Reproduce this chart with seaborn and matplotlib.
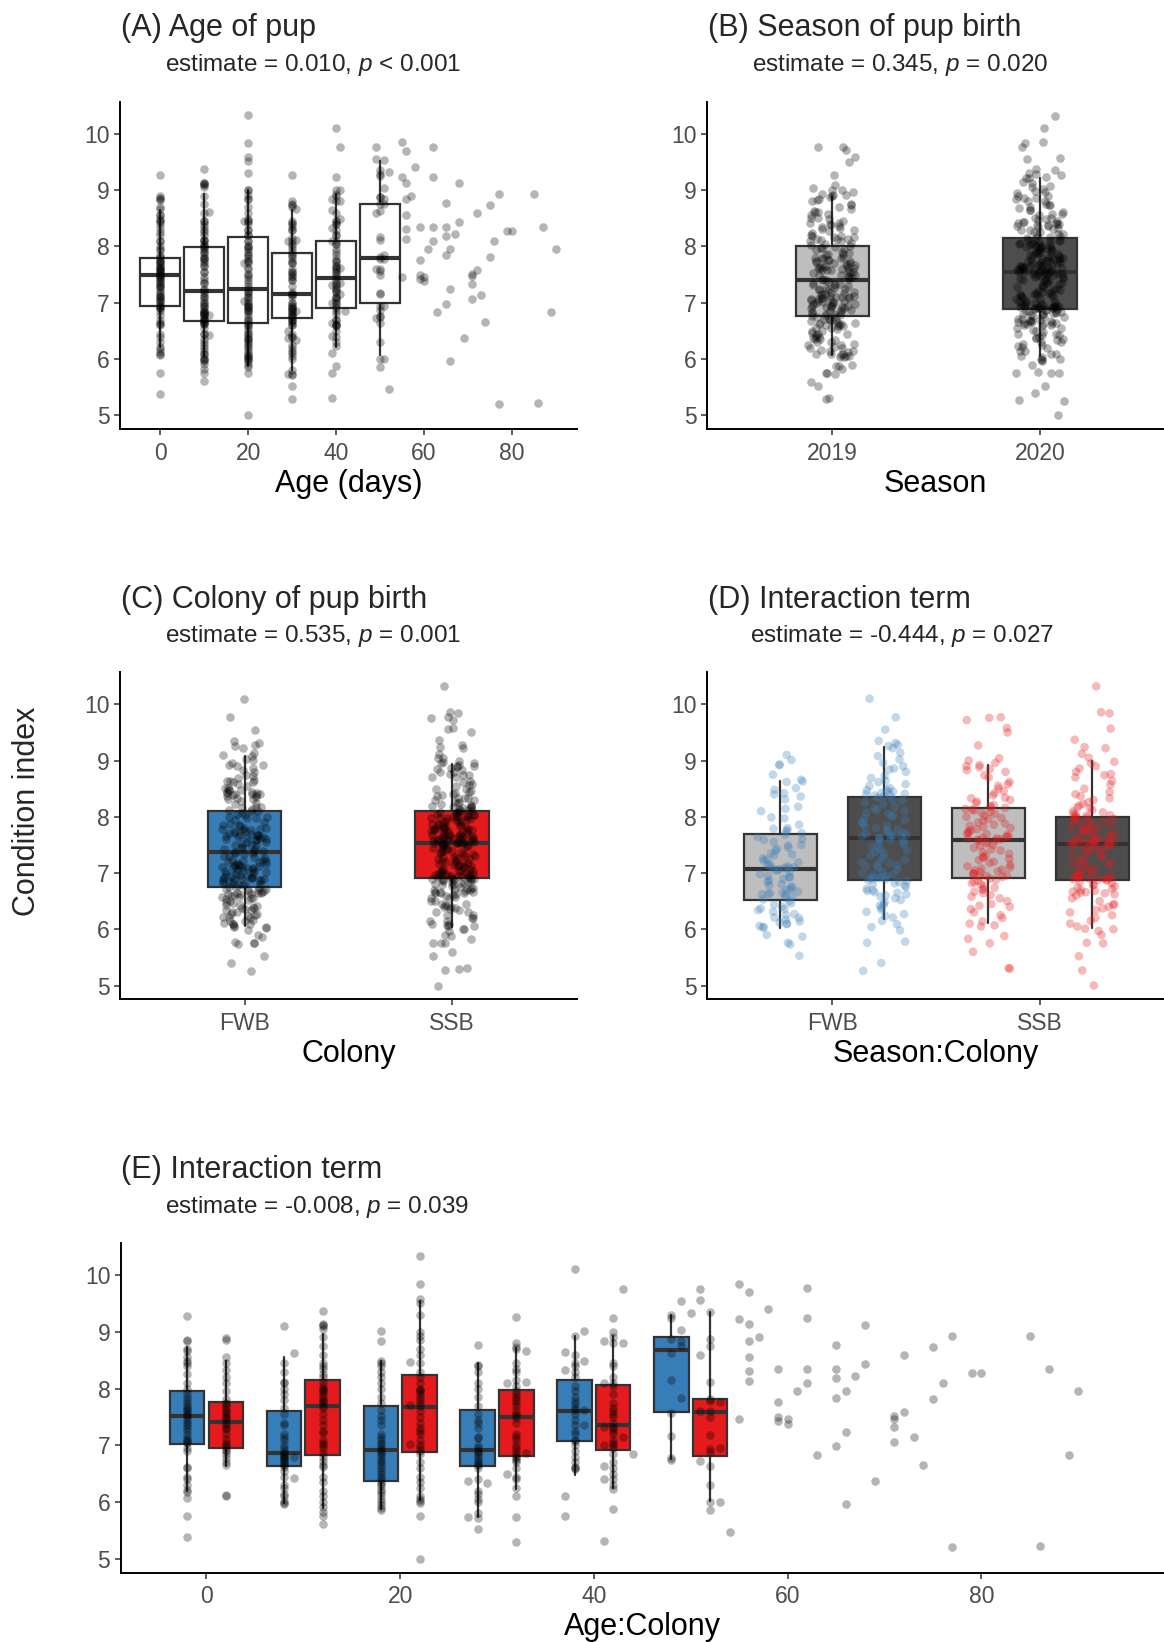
import numpy as np
import pandas as pd
import matplotlib
matplotlib.use("Agg")
import matplotlib.pyplot as plt
import seaborn as sns

# ---------------- DATA ----------------
# Season x Colony groups (condition index values)
fwb_2019 = [9.10, 9.01, 8.93, 8.92, 8.75, 8.66,
            8.63, 8.62, 8.51, 8.48, 8.42, 8.40, 8.36, 8.31, 8.18, 8.14, 8.10, 7.99, 7.97, 7.86, 7.80, 7.79, 7.76, 7.74, 7.71,
            7.68, 7.64, 7.60, 7.59, 7.55, 7.50, 7.49, 7.45, 7.43, 7.40, 7.35, 7.33, 7.31, 7.26, 7.24, 7.22, 7.19, 7.16, 7.14, 7.12, 7.11, 7.10, 7.09, 7.09, 7.07,
            7.06, 7.04, 7.01, 6.98, 6.95, 6.93, 6.92, 6.90, 6.87, 6.84, 6.80, 6.78, 6.76, 6.74, 6.71, 6.69, 6.67, 6.65, 6.64, 6.63, 6.62, 6.61, 6.58, 6.56, 6.53,
            6.50, 6.46, 6.44, 6.40, 6.37, 6.36, 6.34, 6.31, 6.27, 6.25, 6.21, 6.20, 6.17, 6.14, 6.12, 6.10, 6.09, 6.06, 6.04, 6.03,
            5.90, 5.87, 5.76, 5.73, 5.53]
fwb_2020 = [10.10, 9.77, 9.55, 9.35, 9.31, 9.28, 9.26,
            9.22, 9.14, 9.08, 9.02, 8.96, 8.90, 8.86, 8.84, 8.80, 8.73, 8.69, 8.64, 8.62, 8.58, 8.55, 8.51, 8.48, 8.47, 8.45, 8.44, 8.42, 8.41, 8.40, 8.39, 8.38, 8.37,
            8.34, 8.31, 8.29, 8.25, 8.22, 8.18, 8.15, 8.12, 8.10, 8.07, 8.05, 8.03, 8.00, 7.97, 7.94, 7.90, 7.88, 7.85, 7.83, 7.80, 7.78, 7.76, 7.74, 7.72, 7.70, 7.68, 7.67, 7.66, 7.65, 7.64, 7.63, 7.62,
            7.60, 7.58, 7.55, 7.52, 7.49, 7.46, 7.43, 7.40, 7.38, 7.35, 7.31, 7.28, 7.24, 7.21, 7.19, 7.17, 7.15, 7.14, 7.12, 7.09, 7.06, 7.03, 7.00, 6.98, 6.96, 6.94, 6.93, 6.92, 6.91, 6.90, 6.89, 6.88,
            6.86, 6.84, 6.82, 6.80, 6.78, 6.75, 6.72, 6.69, 6.68, 6.66, 6.65, 6.62, 6.60, 6.58, 6.55, 6.52, 6.48, 6.44, 6.42, 6.38, 6.35, 6.31, 6.27, 6.24, 6.21,
            6.15, 6.09, 6.04, 5.98, 5.78, 5.76, 5.40, 5.26]
ssb_2019 = [9.77, 9.76, 9.72, 9.58, 9.50, 9.27, 9.04, 9.00, 8.96,
            8.92, 8.90, 8.88, 8.85, 8.83, 8.80, 8.74, 8.70, 8.62, 8.58, 8.55, 8.50, 8.46, 8.42, 8.38, 8.34, 8.33, 8.30, 8.27, 8.24, 8.21, 8.19, 8.17, 8.16,
            8.14, 8.13, 8.11, 8.09, 8.07, 8.05, 8.02, 8.00, 7.98, 7.96, 7.93, 7.90, 7.88, 7.86, 7.84, 7.82, 7.80, 7.78, 7.76, 7.74, 7.72, 7.70, 7.69, 7.67, 7.66, 7.64, 7.63, 7.62, 7.61, 7.60, 7.59, 7.58,
            7.57, 7.55, 7.53, 7.50, 7.48, 7.45, 7.42, 7.40, 7.37, 7.34, 7.31, 7.29, 7.27, 7.25, 7.23, 7.20, 7.18, 7.15, 7.12, 7.10, 7.08, 7.06, 7.05, 7.03, 7.02, 7.00, 6.99, 6.98, 6.96, 6.95, 6.94, 6.93,
            6.90, 6.88, 6.86, 6.84, 6.82, 6.80, 6.77, 6.74, 6.72, 6.70, 6.67, 6.64, 6.61, 6.58, 6.55, 6.50, 6.45, 6.42, 6.40, 6.36, 6.30, 6.25, 6.20, 6.14,
            6.10, 6.07, 6.05, 5.88, 5.83, 5.75, 5.60, 5.31, 5.30]
ssb_2020 = [10.32, 9.86, 9.84, 9.57, 9.37, 9.24, 9.22, 9.12, 9.05,
            8.98, 8.95, 8.90, 8.86, 8.80, 8.76, 8.74, 8.70, 8.64, 8.57, 8.50, 8.44, 8.40, 8.37, 8.33, 8.30, 8.26, 8.23, 8.20, 8.17, 8.15, 8.12, 8.10, 8.08, 8.06, 8.04, 8.03, 8.02, 8.01,
            7.99, 7.98, 7.97, 7.96, 7.94, 7.92, 7.90, 7.88, 7.86, 7.84, 7.82, 7.80, 7.79, 7.78, 7.77, 7.75, 7.74, 7.72, 7.70, 7.68, 7.66, 7.65, 7.64, 7.62, 7.61, 7.60, 7.59, 7.58, 7.57, 7.56, 7.55, 7.54, 7.54, 7.53, 7.53, 7.52, 7.52,
            7.51, 7.50, 7.48, 7.46, 7.44, 7.42, 7.40, 7.38, 7.35, 7.33, 7.30, 7.28, 7.25, 7.22, 7.20, 7.18, 7.16, 7.14, 7.12, 7.10, 7.07, 7.04, 7.02, 7.00, 6.98, 6.97, 6.96, 6.95, 6.94, 6.93, 6.92, 6.91, 6.90, 6.90, 6.89, 6.89, 6.88,
            6.86, 6.84, 6.82, 6.80, 6.78, 6.76, 6.74, 6.72, 6.70, 6.68, 6.67, 6.66, 6.65, 6.64, 6.62, 6.60, 6.55, 6.50, 6.45, 6.43, 6.40, 6.37, 6.34, 6.30, 6.25, 6.20, 6.15, 6.10, 6.05,
            6.01, 6.00, 5.97, 5.90, 5.76, 5.75, 5.52, 5.27, 5.00]

# Age-group pups (age exactly at the group age), per colony
age_groups = [0, 10, 20, 30, 40, 50]
fwb_age0 = [9.27, 8.86, 8.83, 8.70, 8.66, 8.55, 8.48, 8.45, 8.40, 8.25, 8.10, 8.00, 7.93, 7.85, 7.80, 7.75, 7.70, 7.65, 7.62, 7.60, 7.56, 7.53, 7.50, 7.45, 7.40, 7.35, 7.30, 7.25, 7.18, 7.12, 7.10, 7.06, 7.04, 6.95, 6.90, 6.62, 6.60, 6.45, 6.40, 6.30, 6.22, 6.18, 6.08, 5.76, 5.39]
ssb_age0 = [8.89, 8.85, 8.55, 8.45, 8.32, 8.20, 8.10, 7.95, 7.82, 7.75, 7.72, 7.68, 7.62, 7.58, 7.55, 7.50, 7.48, 7.44, 7.40, 7.35, 7.30, 7.28, 7.20, 7.12, 7.05, 7.00, 6.97, 6.92, 6.90, 6.85, 6.78, 6.70, 6.65, 6.12, 6.10]
fwb_age10 = [9.11, 8.45, 8.30, 8.12, 8.10, 8.00, 7.90, 7.80, 7.65, 7.55, 7.40, 7.35, 7.20, 7.15, 7.10, 7.00, 6.95, 6.90, 6.86, 6.84, 6.82, 6.80, 6.78, 6.76, 6.72, 6.70, 6.68, 6.66, 6.62, 6.55, 6.45, 6.30, 6.25, 6.15, 6.10, 6.02, 5.98, 5.97]
ssb_age10 = [9.37, 9.13, 9.12, 9.10, 9.05, 8.90, 8.75, 8.60, 8.45, 8.40, 8.35, 8.25, 8.20, 8.12, 8.05, 8.00, 7.98, 7.95, 7.90, 7.85, 7.80, 7.78, 7.75, 7.70, 7.65, 7.55, 7.45, 7.35, 7.25, 7.22, 7.10, 7.05, 7.00, 6.95, 6.86, 6.80, 6.72, 6.65, 6.62, 6.45, 6.35, 6.20, 6.10, 6.00, 5.92, 5.82, 5.76, 5.61]
fwb_age20 = [9.01, 8.84, 8.48, 8.45, 8.40, 8.30, 8.20, 8.10, 8.00, 7.85, 7.75, 7.62, 7.52, 7.45, 7.35, 7.20, 7.15, 7.10, 7.05, 7.00, 6.95, 6.92, 6.88, 6.85, 6.80, 6.75, 6.70, 6.65, 6.60, 6.55, 6.50, 6.45, 6.40, 6.35, 6.32, 6.28, 6.22, 6.18, 6.12, 6.05, 6.00, 5.95, 5.90, 5.86]
ssb_age20 = [10.33, 9.84, 9.58, 9.51, 9.30, 9.00, 8.92, 8.85, 8.70, 8.60, 8.45, 8.30, 8.20, 8.10, 8.00, 7.98, 7.95, 7.90, 7.85, 7.80, 7.75, 7.70, 7.60, 7.50, 7.40, 7.30, 7.25, 7.20, 7.10, 7.00, 6.95, 6.90, 6.85, 6.70, 6.60, 6.45, 6.35, 6.25, 6.10, 6.05, 6.02, 5.99, 5.76, 5.00]
fwb_age30 = [8.76, 8.42, 8.40, 8.30, 8.10, 8.00, 7.85, 7.70, 7.55, 7.45, 7.40, 7.30, 7.15, 7.13, 7.00, 6.95, 6.90, 6.88, 6.85, 6.80, 6.75, 6.70, 6.68, 6.65, 6.60, 6.40, 6.20, 6.15, 6.05, 6.00, 5.80, 5.72, 5.53]
ssb_age30 = [9.26, 8.81, 8.74, 8.70, 8.45, 8.35, 8.30, 8.15, 8.05, 7.95, 7.90, 7.85, 7.80, 7.75, 7.70, 7.60, 7.55, 7.51, 7.48, 7.40, 7.20, 7.15, 7.10, 7.00, 6.95, 6.90, 6.85, 6.80, 6.78, 6.75, 6.70, 6.60, 6.45, 6.40, 6.25, 6.11, 5.74, 5.30]
fwb_age40 = [10.11, 8.93, 8.60, 8.45, 8.40, 8.30, 8.20, 8.05, 7.95, 7.85, 7.78, 7.72, 7.65, 7.62, 7.55, 7.45, 7.35, 7.25, 7.20, 7.10, 7.08, 7.00, 6.90, 6.80, 6.70, 6.62, 6.60, 6.58]
ssb_age40 = [9.24, 9.00, 8.90, 8.80, 8.45, 8.40, 8.20, 8.10, 8.05, 7.90, 7.75, 7.65, 7.60, 7.55, 7.50, 7.40, 7.33, 7.30, 7.25, 7.20, 7.10, 7.05, 7.00, 6.95, 6.85, 6.70, 6.60, 6.50, 6.40, 6.30, 6.23, 5.87]
fwb_age50 = [9.29, 9.25, 8.87, 8.63, 8.16, 7.57, 7.16, 6.77, 6.75]
ssb_age50 = [9.35, 8.87, 8.75, 8.11, 7.82, 7.78, 7.60, 7.50, 7.18, 6.94, 6.88, 6.64, 6.31, 6.01, 5.86]

# Pups whose age is off the group age
fwb_extra_age = [11, 11, 11, 29, 29, 31, 39, 39, 39, 39, 41, 41, 41, 41, 51, 51, 51, 51, 51, 52]
fwb_extra_cond = [8.62, 6.43, 6.79, 6.37, 5.73, 6.34, 8.65, 8.33, 6.11, 5.76, 9.01, 8.48, 7.36, 7.62, 9.54, 9.04, 8.84, 8.75, 7.84, 9.33]
ssb_extra_age = [19, 19, 19, 29, 29, 31, 31, 31, 39, 39, 39, 39, 39, 39, 39, 41, 41, 41, 42, 49, 49, 49, 49, 49, 51, 51, 51, 52]
ssb_extra_cond = [8.46, 7.71, 7.03, 8.10, 6.50, 8.67, 8.12, 6.86, 8.84, 8.10, 7.32, 7.00, 6.64, 6.41, 5.31, 9.76, 8.80, 7.15, 6.85, 9.76, 9.56, 8.60, 7.60, 6.73, 7.77, 6.95, 6.00, 5.47]
# Older pups (no box)
old_age = [55, 55, 55, 56, 56, 56, 56, 56, 56, 57, 58, 59, 59, 59, 59, 60, 60, 61, 62, 62, 62, 62, 63, 65, 65, 65, 65, 65, 66, 66, 66, 67, 68, 68, 69, 71, 71, 71, 71, 72, 72, 73, 74, 75, 75, 76, 77, 77, 79, 80, 85, 86, 87, 89, 90]
old_cond = [9.85, 9.23, 7.46, 9.70, 9.13, 8.84, 8.56, 8.31, 8.13, 8.90, 9.41, 8.34, 7.76, 7.50, 7.43, 7.46, 7.38, 7.96, 9.77, 9.24, 8.35, 8.09, 6.83, 8.77, 8.35, 8.18, 7.84, 6.98, 7.95, 7.24, 5.97, 8.22, 9.12, 8.43, 6.37, 7.52, 7.47, 7.33, 7.06, 8.59, 7.59, 7.14, 6.66, 8.74, 7.81, 8.10, 8.93, 5.21, 8.28, 8.28, 8.93, 5.22, 8.34, 6.83, 7.96]

# Box statistics: whisker low, Q1, median, Q3, whisker high
a_lo = [6.22, 6.05, 5.87, 5.81, 6.22, 6.08]
a_q1 = [6.95, 6.68, 6.65, 6.73, 6.91, 6.99]
a_md = [7.49, 7.21, 7.24, 7.15, 7.44, 7.80]
a_q3 = [7.80, 7.99, 8.16, 7.88, 8.09, 8.76]
a_hi = [8.64, 8.93, 9.00, 8.64, 8.93, 9.52]

seasons = ["2019", "2020"]
b_lo = [6.07, 6.06]; b_q1 = [6.76, 6.89]; b_md = [7.41, 7.54]; b_q3 = [8.01, 8.15]; b_hi = [8.89, 9.22]

colonies = ["FWB", "SSB"]
c_lo = [6.06, 6.04]; c_q1 = [6.75, 6.91]; c_md = [7.37, 7.53]; c_q3 = [8.11, 8.11]; c_hi = [9.08, 8.94]

d_groups = ["FWB 2019", "FWB 2020", "SSB 2019", "SSB 2020"]
d_lo = [6.02, 6.19, 6.11, 6.02]
d_q1 = [6.52, 6.88, 6.92, 6.88]
d_md = [7.08, 7.62, 7.58, 7.52]
d_q3 = [7.69, 8.36, 8.15, 8.00]
d_hi = [8.64, 9.24, 8.93, 8.99]

e_fwb_lo = [6.20, 5.99, 5.87, 5.73, 6.48, 6.76]
e_fwb_q1 = [7.03, 6.64, 6.37, 6.63, 7.07, 7.59]
e_fwb_md = [7.52, 6.87, 6.91, 6.91, 7.60, 8.68]
e_fwb_q3 = [7.96, 7.60, 7.69, 7.62, 8.15, 8.91]
e_fwb_hi = [8.74, 8.56, 8.49, 8.45, 8.93, 9.29]
e_ssb_lo = [6.64, 5.90, 6.03, 6.23, 6.25, 6.02]
e_ssb_q1 = [6.95, 6.83, 6.88, 6.82, 6.91, 6.81]
e_ssb_md = [7.42, 7.69, 7.68, 7.50, 7.35, 7.59]
e_ssb_q3 = [7.77, 8.15, 8.24, 7.98, 8.07, 7.82]
e_ssb_hi = [8.48, 8.97, 9.54, 8.71, 8.92, 9.35]

# ---------------- STYLE ----------------
sns.set_theme(style="ticks")
plt.rcParams['font.family'] = ['Liberation Sans', 'DejaVu Sans']
plt.rcParams['mathtext.fontset'] = 'custom'
plt.rcParams['mathtext.rm'] = 'Liberation Sans'
plt.rcParams['mathtext.it'] = 'Liberation Sans:italic'

BLUE = "#377EB8"
RED = "#E41A1C"
LIGHT = "#BEBEBE"
DARK = "#4D4D4D"
EDGE = "#333333"
PT_S = 38
PT_SIZE = 6.2
PT_ALPHA = 0.29

W, H = 1164, 1642
fig = plt.figure(figsize=(W / 100, H / 100), dpi=100, facecolor="white")


def add_ax(l, t, r, b):
    return fig.add_axes([l / W, 1 - b / H, (r - l) / W, (b - t) / H])


def style(ax, xlabel):
    sns.despine(ax=ax)
    for s in ["left", "bottom"]:
        ax.spines[s].set_color("black")
        ax.spines[s].set_linewidth(1.4)
    ax.tick_params(axis="both", colors="#333333", labelcolor="#4D4D4D",
                   labelsize=16.5, length=4, width=1.1, pad=3.5)
    ax.tick_params(axis="x", pad=5.0)
    ax.set_ylim(4.76, 10.57)
    ax.set_yticks([5, 6, 7, 8, 9, 10])
    ax.set_xlabel(xlabel, fontsize=22, labelpad=3, color="black")
    ax.set_ylabel("")
    ax.grid(False)
    ax.set_facecolor("white")


def boxes(ax, pos, lo, q1, md, q3, hi, width, faces):
    stats = [dict(med=m, q1=a, q3=b, whislo=l, whishi=h, fliers=[])
             for l, a, m, b, h in zip(lo, q1, md, q3, hi)]
    bp = ax.bxp(stats, positions=pos, widths=width, patch_artist=True,
                showcaps=False, showfliers=False, manage_ticks=False,
                boxprops=dict(edgecolor=EDGE, linewidth=1.6),
                medianprops=dict(color=EDGE, linewidth=3.0, solid_capstyle="butt"),
                whiskerprops=dict(color=EDGE, linewidth=1.6), zorder=2)
    for p, fc in zip(bp["boxes"], faces):
        p.set_facecolor(fc)


def titles(x_title, y_title, title, sub, x_sub):
    fig.text(x_title / W, 1 - (y_title + 3) / H, title, fontsize=22, va="center", ha="left")
    fig.text(x_sub / W, 1 - (y_title + 39.6) / H, sub, fontsize=17.5, va="center", ha="left")


# ---------- age data frame ----------
fwb_by_age = [fwb_age0, fwb_age10, fwb_age20, fwb_age30, fwb_age40, fwb_age50]
ssb_by_age = [ssb_age0, ssb_age10, ssb_age20, ssb_age30, ssb_age40, ssb_age50]
ages, cols, conds = [], [], []
for g, fv, sv in zip(age_groups, fwb_by_age, ssb_by_age):
    ages += [g] * len(fv); cols += ["FWB"] * len(fv); conds += fv
    ages += [g] * len(sv); cols += ["SSB"] * len(sv); conds += sv
ages += fwb_extra_age; cols += ["FWB"] * len(fwb_extra_age); conds += fwb_extra_cond
ages += ssb_extra_age; cols += ["SSB"] * len(ssb_extra_age); conds += ssb_extra_cond
ages += old_age; cols += ["old"] * len(old_age); conds += old_cond
df_age = pd.DataFrame({"age": ages, "colony": cols, "cond": conds})
shift = {"FWB": -2.0, "SSB": 2.0, "old": 0.0}
df_age["age_dodged"] = df_age["age"] + df_age["colony"].map(shift)

# ---------- season/colony data frame ----------
grp_vals = [fwb_2019, fwb_2020, ssb_2019, ssb_2020]
grp_col = ["FWB", "FWB", "SSB", "SSB"]
grp_sea = ["2019", "2020", "2019", "2020"]
rows = []
for name, vals, c, s in zip(d_groups, grp_vals, grp_col, grp_sea):
    for v in vals:
        rows.append((name, c, s, v))
df_sc = pd.DataFrame(rows, columns=["group", "colony", "season", "cond"])

np.random.seed(3)

# ---------------- (A) ----------------
axA = add_ax(120, 101.7, 576.8, 429)
boxes(axA, age_groups, a_lo, a_q1, a_md, a_q3, a_hi, 9.0, ["white"] * 6)
sns.scatterplot(data=df_age, x="age", y="cond", color="black", alpha=PT_ALPHA,
                s=PT_S, linewidth=0, ax=axA, zorder=3, legend=False)
style(axA, "Age (days)")
axA.set_xlim(-9.14, 94.77)
axA.set_xticks([0, 20, 40, 60, 80])
titles(121, 25, "(A) Age of pup", "estimate = 0.010, $p$ < 0.001", 165.4)

# ---------------- (B) ----------------
axB = add_ax(707.3, 101.7, 1164, 429)
sns.stripplot(data=df_sc, x="season", y="cond", order=seasons, color="black",
              alpha=PT_ALPHA, size=PT_SIZE, linewidth=0, jitter=0.115, ax=axB, zorder=3)
boxes(axB, [0, 1], b_lo, b_q1, b_md, b_q3, b_hi, 0.354, [LIGHT, DARK])
style(axB, "Season")
axB.set_xlim(-0.602, 1.598)
axB.set_xticks([0, 1])
axB.set_xticklabels(seasons)
titles(707.6, 25, "(B) Season of pup birth", "estimate = 0.345, $p$ = 0.020", 751.6)

# ---------------- (C) ----------------
axC = add_ax(120, 672.3, 576.8, 999)
sns.stripplot(data=df_sc, x="colony", y="cond", order=colonies, color="black",
              alpha=PT_ALPHA, size=PT_SIZE, linewidth=0, jitter=0.108, ax=axC, zorder=3)
boxes(axC, [0, 1], c_lo, c_q1, c_md, c_q3, c_hi, 0.354, [BLUE, RED])
style(axC, "Colony")
axC.set_xlim(-0.6, 1.6)
axC.set_xticks([0, 1])
axC.set_xticklabels(colonies)
titles(121, 596.7, "(C) Colony of pup birth", "estimate = 0.535, $p$ = 0.001", 165.4)

# ---------------- (D) ----------------
axD = add_ax(707.3, 672.3, 1164, 999)
boxes(axD, [0, 1, 2, 3], d_lo, d_q1, d_md, d_q3, d_hi, 0.70, [LIGHT, DARK, LIGHT, DARK])
sns.stripplot(data=df_sc, x="group", y="cond", order=d_groups, hue="colony",
              palette={"FWB": BLUE, "SSB": RED}, alpha=0.3, size=PT_SIZE,
              linewidth=0, jitter=0.22, ax=axD, zorder=3, legend=False)
style(axD, "Season:Colony")
axD.set_xlim(-0.70, 3.69)
axD.set_xticks([0.5, 2.5])
axD.set_xticklabels(colonies)
titles(707.6, 596.7, "(D) Interaction term", "estimate = -0.444, $p$ = 0.027", 749.5)

# ---------------- (E) ----------------
axE = add_ax(120.7, 1242.7, 1164, 1572.5)
pos_f = [g - 2 for g in age_groups]
pos_s = [g + 2 for g in age_groups]
boxes(axE, pos_f, e_fwb_lo, e_fwb_q1, e_fwb_md, e_fwb_q3, e_fwb_hi, 3.55, [BLUE] * 6)
boxes(axE, pos_s, e_ssb_lo, e_ssb_q1, e_ssb_md, e_ssb_q3, e_ssb_hi, 3.55, [RED] * 6)
sns.scatterplot(data=df_age, x="age_dodged", y="cond", color="black", alpha=PT_ALPHA,
                s=PT_S, linewidth=0, ax=axE, zorder=3, legend=False)
style(axE, "Age:Colony")
axE.set_xlim(-8.85, 98.85)
axE.set_xticks([0, 20, 40, 60, 80])
titles(121.4, 1167.2, "(E) Interaction term", "estimate = -0.008, $p$ = 0.039", 165.4)

fig.text(27 / W, 1 - 811 / H, "Condition index", rotation=90, fontsize=22,
         va="center", ha="center")

fig.savefig("out.png", dpi=100, facecolor="white")
